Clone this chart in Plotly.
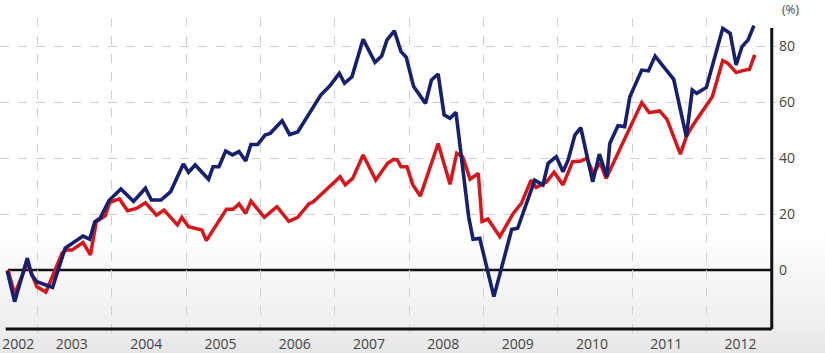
import base64
import plotly.graph_objects as go

# ---- data (decimal years, % change) ----
blue_x = [2002.59, 2002.69, 2002.86, 2002.92, 2002.99, 2003.10, 2003.20, 2003.37, 2003.49, 2003.61,
          2003.70, 2003.77, 2003.84, 2003.96, 2004.12, 2004.29, 2004.45, 2004.53, 2004.66, 2004.79,
          2004.96, 2005.03, 2005.12, 2005.30, 2005.36, 2005.44, 2005.53, 2005.62, 2005.71, 2005.80,
          2005.87, 2005.96, 2006.06, 2006.13, 2006.29, 2006.39, 2006.50, 2006.66, 2006.81, 2006.93,
          2007.06, 2007.13, 2007.23, 2007.38, 2007.54, 2007.63, 2007.70, 2007.80, 2007.89, 2007.96,
          2008.06, 2008.22, 2008.30, 2008.39, 2008.47, 2008.55, 2008.63, 2008.80, 2008.86, 2008.95,
          2009.14, 2009.38, 2009.46, 2009.69, 2009.80, 2009.87, 2009.98, 2010.07, 2010.14, 2010.23,
          2010.31, 2010.47, 2010.56, 2010.66, 2010.70, 2010.81, 2010.90, 2010.97, 2011.13, 2011.22,
          2011.31, 2011.56, 2011.73, 2011.81, 2011.87, 2012.00, 2012.22, 2012.32, 2012.40, 2012.48,
          2012.56, 2012.64]
blue_y = [-0.3, -11.3, 4.2, -1.8, -4.2, -5.4, -6.2, 7.8, 9.8, 12.1,
          11.0, 17.3, 18.5, 24.8, 28.9, 24.5, 29.2, 25.0, 25.0, 28.0,
          37.9, 34.9, 37.5, 32.4, 36.9, 36.9, 42.5, 41.1, 42.3, 38.9,
          44.8, 44.8, 48.2, 48.8, 53.3, 48.4, 49.3, 56.0, 62.5, 65.7,
          70.2, 66.7, 69.0, 82.4, 74.2, 76.4, 82.1, 85.4, 78.0, 76.0,
          65.5, 59.5, 67.9, 70.0, 55.4, 54.2, 56.3, 19.0, 11.0, 11.3,
          -9.5, 14.5, 14.9, 32.1, 30.4, 38.1, 40.5, 35.1, 39.3, 48.2,
          50.8, 31.5, 41.4, 33.3, 45.2, 51.5, 51.2, 61.9, 71.4, 71.1,
          76.4, 68.1, 47.6, 64.3, 63.1, 65.2, 86.3, 84.5, 73.2, 79.8,
          82.1, 87.3]

red_x = [2002.60, 2002.69, 2002.86, 2002.99, 2003.11, 2003.33, 2003.39, 2003.46, 2003.61, 2003.71,
         2003.79, 2003.91, 2003.97, 2004.10, 2004.21, 2004.33, 2004.45, 2004.60, 2004.70, 2004.88,
         2004.94, 2005.03, 2005.21, 2005.27, 2005.54, 2005.63, 2005.71, 2005.80, 2005.87, 2006.05,
         2006.22, 2006.38, 2006.50, 2006.65, 2006.71, 2007.07, 2007.14, 2007.24, 2007.38, 2007.55,
         2007.71, 2007.79, 2007.84, 2007.89, 2007.97, 2008.05, 2008.15, 2008.39, 2008.55, 2008.64,
         2008.72, 2008.82, 2008.93, 2008.98, 2009.06, 2009.22, 2009.40, 2009.51, 2009.64, 2009.71,
         2009.85, 2009.95, 2010.07, 2010.20, 2010.31, 2010.39, 2010.48, 2010.57, 2010.65, 2011.13,
         2011.23, 2011.37, 2011.47, 2011.65, 2011.73, 2011.82, 2012.08, 2012.22, 2012.29, 2012.40,
         2012.49, 2012.58, 2012.65]
red_y = [0.0, -8.6, 2.5, -6.0, -7.9, 6.1, 7.1, 7.1, 9.8, 5.4,
         17.3, 19.3, 24.2, 25.4, 21.2, 22.0, 24.0, 19.6, 21.4, 16.1,
         18.8, 15.5, 14.3, 10.5, 21.7, 21.7, 23.6, 20.2, 24.6, 18.8,
         22.6, 17.4, 18.8, 23.6, 24.4, 33.3, 30.4, 32.7, 41.1, 32.1,
         38.1, 39.5, 39.3, 36.9, 36.9, 30.4, 26.4, 45.2, 30.6, 41.7,
         40.5, 32.4, 34.5, 17.3, 18.2, 11.9, 20.2, 23.8, 32.1, 29.5,
         31.5, 34.9, 30.4, 38.7, 38.9, 39.9, 34.5, 38.3, 32.7, 59.8,
         56.2, 56.8, 53.8, 41.4, 47.6, 51.8, 61.9, 74.8, 73.8, 70.5,
         71.2, 71.7, 76.8]

years = [2002, 2003, 2004, 2005, 2006, 2007, 2008, 2009, 2010, 2011, 2012]
year_labels = [str(y) for y in years]
y_ticks = [0, 20, 40, 60, 80]

# ---- styling / layout constants ----
W, H = 825, 353
ML, MR, MT, MB = 0, 49, 18, 20
X_RANGE = [2002.493, 2012.937]
Y_RANGE = [-22.5, 90]
AXIS_X_RIGHT = 2012.88
AXIS_Y_BOTTOM = -21.1
AXIS_TOP = 86.4
LINE_START = 2002.60

label_pos = [y + 0.46 for y in years]
label_pos[0] = 2002.74

# background gradient as inline svg image
svg = ('<svg xmlns="http://www.w3.org/2000/svg" width="825" height="353">'
       '<defs><linearGradient id="g" x1="0" y1="0" x2="0" y2="1">'
       '<stop offset="0" stop-color="#ffffff"/>'
       '<stop offset="0.66" stop-color="#ffffff"/>'
       '<stop offset="0.93" stop-color="#eeeeee"/>'
       '<stop offset="1" stop-color="#e6e6e6"/>'
       '</linearGradient></defs>'
       '<rect width="825" height="353" fill="url(#g)"/></svg>')
svg_uri = "data:image/svg+xml;base64," + base64.b64encode(svg.encode()).decode()

pw = W - ML - MR
ph = H - MT - MB

fig = go.Figure()
fig.add_trace(go.Scatter(x=red_x, y=red_y, mode="lines",
                         line=dict(color="#d7161c", width=3.5), hoverinfo="skip"))
fig.add_trace(go.Scatter(x=blue_x, y=blue_y, mode="lines",
                         line=dict(color="#16206c", width=3.6), hoverinfo="skip"))

shapes = [
    dict(type="line", xref="x", yref="y", x0=LINE_START, x1=AXIS_X_RIGHT, y0=0, y1=0,
         line=dict(color="#111111", width=2.5), layer="below"),
    dict(type="line", xref="x", yref="y", x0=LINE_START - 0.03, x1=AXIS_X_RIGHT, y0=AXIS_Y_BOTTOM, y1=AXIS_Y_BOTTOM,
         line=dict(color="#111111", width=3)),
    dict(type="line", xref="x", yref="y", x0=AXIS_X_RIGHT, x1=AXIS_X_RIGHT, y0=AXIS_Y_BOTTOM, y1=AXIS_TOP,
         line=dict(color="#111111", width=3)),
]

fig.update_layout(
    width=W, height=H,
    margin=dict(l=ML, r=MR, t=MT, b=MB, pad=0),
    paper_bgcolor="white",
    plot_bgcolor="rgba(0,0,0,0)",
    showlegend=False,
    font=dict(family="Open Sans", color="#444444", size=14),
    images=[dict(source=svg_uri, xref="paper", yref="paper",
                 x=-ML / pw, y=1 + MT / ph, sizex=W / pw, sizey=H / ph,
                 xanchor="left", yanchor="top", sizing="stretch", layer="below")],
    shapes=shapes,
    xaxis=dict(range=X_RANGE, showgrid=False, zeroline=False, showline=False,
               tickmode="array", tickvals=label_pos, ticktext=year_labels,
               ticks="", ticklabelstandoff=1,
               tickfont=dict(size=14, color="#444444"),
               minor=dict(tickmode="array", tickvals=years[1:], showgrid=True,
                          gridcolor="#cfcfcf", griddash="dash", gridwidth=1, ticks="")),
    yaxis=dict(range=Y_RANGE, side="right", showgrid=False, zeroline=False, showline=False,
               tickmode="array", tickvals=y_ticks, ticktext=[str(v) for v in y_ticks],
               ticks="", ticklabelstandoff=2,
               tickfont=dict(size=14, color="#444444"),
               minor=dict(tickmode="array", tickvals=y_ticks[1:], showgrid=True,
                          gridcolor="#cfcfcf", griddash="dash", gridwidth=1, ticks="")),
    annotations=[dict(text="(%)", xref="paper", yref="paper", x=1 + 14 / pw, y=1 + MT / ph,
                      xanchor="center", yanchor="top", yshift=0, borderpad=0, showarrow=False,
                      font=dict(size=12, color="#444444"))],
)

fig.write_html("out.html")
